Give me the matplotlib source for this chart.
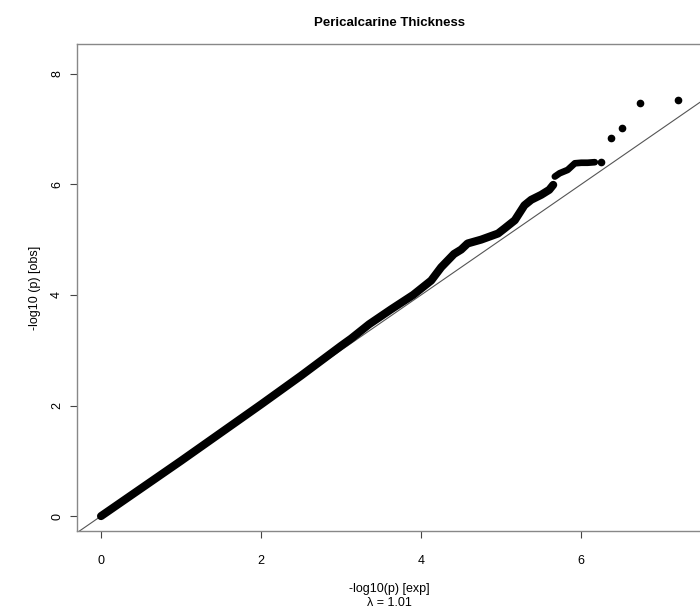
import numpy as np
import matplotlib.pyplot as plt

# QQ plot of -log10(p)

# dense part of the curve (expected, observed)
band_exp = [0.0, 1.0, 2.0, 2.5, 3.0, 3.125, 3.35, 3.625, 3.9, 4.125, 4.25,
            4.41, 4.5, 4.58, 4.75, 4.96, 5.04, 5.17, 5.29, 5.375, 5.5, 5.6, 5.65]
band_obs = [0.0, 1.0, 2.02, 2.54, 3.08, 3.21, 3.47, 3.74, 4.0, 4.26, 4.5,
            4.74, 4.82, 4.93, 5.0, 5.11, 5.2, 5.35, 5.62, 5.72, 5.81, 5.9, 5.99]

# short run after the small jump
step_exp = [5.67, 5.73, 5.83, 5.92, 6.0, 6.08, 6.17]
step_obs = [6.14, 6.2, 6.26, 6.38, 6.39, 6.39, 6.4]

# the few single points at the top
top_exp = [6.25, 6.37, 6.51, 6.73, 7.21]
top_obs = [6.41, 6.83, 7.02, 7.47, 7.53]

x_ticks = [0, 2, 4, 6]
y_ticks = [0, 2, 4, 6, 8]

title = "Pericalcarine Thickness"
lambda_gc = 1.01

# -------------------------------------------------

def main():
    plt.rcParams['font.family'] = ['Liberation Sans', 'DejaVu Sans']

    fig = plt.figure(figsize=(7, 6.09), dpi=100)
    ax = fig.add_axes([0.11, 0.128, 0.893, 0.80])

    ax.set_xlim(-0.30, 7.51)
    ax.set_ylim(-0.27, 8.54)

    # y = x reference line
    ax.axline((0, 0), slope=1, color='#555555', lw=0.8, zorder=2)

    ax.plot(band_exp, band_obs, color='black', lw=5.8, solid_capstyle='round',
            solid_joinstyle='round', zorder=3)
    ax.plot(step_exp, step_obs, color='black', lw=4.8, solid_capstyle='round',
            solid_joinstyle='round', zorder=3)
    ax.plot(top_exp, top_obs, 'o', color='black', ms=4.5, zorder=3)

    ax.set_xticks(x_ticks)
    ax.set_yticks(y_ticks)
    ax.tick_params(colors='#444444', labelcolor='black', length=5, width=0.8,
                   labelsize=9)
    ax.tick_params(axis='x', pad=12)
    ax.tick_params(axis='y', pad=5)
    for lab in ax.get_yticklabels():
        lab.set_rotation(90)
        lab.set_va('center')

    for side in ['left', 'bottom', 'top', 'right']:
        ax.spines[side].set_color('#888888')
        ax.spines[side].set_linewidth(1)

    ax.set_title(title, fontsize=9.5, fontweight='bold', pad=13)
    ax.set_xlabel('-log10(p) [exp]\n\u03bb = %.2f' % lambda_gc, fontsize=9,
                  labelpad=12, linespacing=1.2)
    ax.set_ylabel('-log10 (p) [obs]', fontsize=9, labelpad=7)

    fig.savefig('out.png', dpi=100)

# -------------------------------------------------

main()
